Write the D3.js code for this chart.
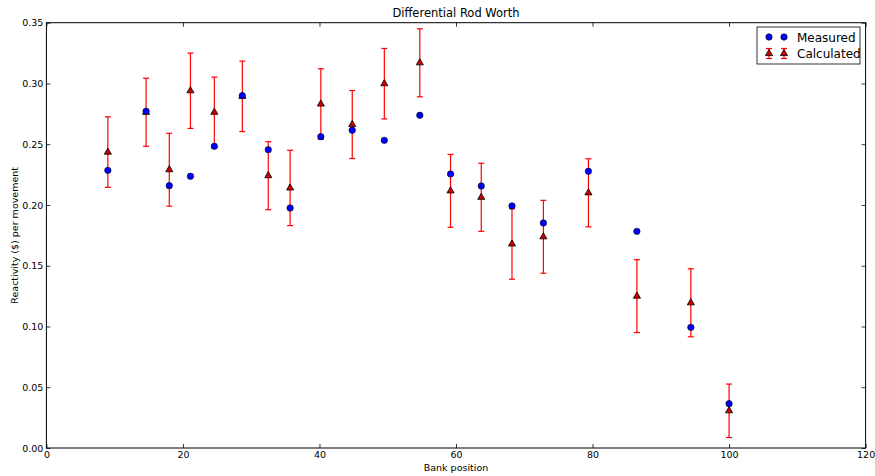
<!DOCTYPE html>
<html>
<head>
<meta charset="utf-8">
<script src="https://cdn.jsdelivr.net/npm/d3@7"></script>
<style>
  body { margin: 0; background: #fff; }
  text { font-family: "DejaVu Sans", sans-serif; fill: #000; }
</style>
</head>
<body>
<div id="chart"></div>
<script>
// Bank positions and reactivity values
const positions = [9, 14.6, 18, 21.1, 24.6, 28.7, 32.5, 35.7, 40.2, 44.8, 49.5, 54.7, 59.2, 63.7, 68.2, 72.8, 79.4, 86.5, 94.4, 100];
const measured = [0.2285, 0.2771, 0.2159, 0.2236, 0.2483, 0.290, 0.2455, 0.1975, 0.2562, 0.2615, 0.2532, 0.2738, 0.2255, 0.2156, 0.1992, 0.1852, 0.2277, 0.1783, 0.0993, 0.0365];
const calculated = [0.2435, 0.2763, 0.2290, 0.2940, 0.2763, 0.2894, 0.2241, 0.2140, 0.2831, 0.2662, 0.2998, 0.3170, 0.2116, 0.2063, 0.1679, 0.1738, 0.2100, 0.1250, 0.1195, 0.0306];
const calcError = [0.029, 0.028, 0.030, 0.031, 0.029, 0.029, 0.028, 0.031, 0.029, 0.028, 0.029, 0.028, 0.030, 0.028, 0.029, 0.030, 0.028, 0.030, 0.028, 0.022];
const xTicks = [0, 20, 40, 60, 80, 100, 120];
const yTicks = [0, 0.05, 0.10, 0.15, 0.20, 0.25, 0.30, 0.35];

const width = 875;
const height = 476;
const margin = {top: 22.7, right: 9.4, bottom: 28, left: 46.4};
const plotW = width - margin.left - margin.right;
const plotH = height - margin.top - margin.bottom;

const svg = d3.select("#chart").append("svg")
    .attr("width", width)
    .attr("height", height);

const x = d3.scaleLinear().domain([0, 120]).range([0, plotW]);
const y = d3.scaleLinear().domain([0, 0.35]).range([plotH, 0]);

const g = svg.append("g")
    .attr("transform", `translate(${margin.left},${margin.top})`);

// axes with inward ticks on all four sides
function styleAxis(sel) {
    sel.select(".domain").remove();
    sel.selectAll("line").attr("stroke", "#000").attr("stroke-width", 0.8);
    sel.selectAll("text").attr("font-size", "9.5px").attr("fill", "#000");
}

g.append("g")
    .attr("transform", `translate(0,${plotH})`)
    .call(d3.axisBottom(x).tickValues(xTicks).tickFormat(d3.format("d"))
        .tickSizeInner(-4).tickSizeOuter(0).tickPadding(3))
    .call(styleAxis);

g.append("g")
    .call(d3.axisTop(x).tickValues(xTicks).tickFormat("")
        .tickSizeInner(-4).tickSizeOuter(0))
    .call(styleAxis);

g.append("g")
    .call(d3.axisLeft(y).tickValues(yTicks).tickFormat(d3.format(".2f"))
        .tickSizeInner(-4).tickSizeOuter(0).tickPadding(3))
    .call(styleAxis);

g.append("g")
    .attr("transform", `translate(${plotW},0)`)
    .call(d3.axisRight(y).tickValues(yTicks).tickFormat("")
        .tickSizeInner(-4).tickSizeOuter(0))
    .call(styleAxis);

g.append("rect")
    .attr("width", plotW)
    .attr("height", plotH)
    .attr("fill", "none")
    .attr("stroke", "#000")
    .attr("stroke-width", 1);

// error bars
const calcData = positions.map((p, i) => ({x: p, y: calculated[i], e: calcError[i]}));
const bars = g.append("g").attr("stroke", "#ff0000").attr("stroke-width", 1.2);
calcData.forEach(d => {
    const cx = x(d.x);
    bars.append("line").attr("x1", cx).attr("x2", cx)
        .attr("y1", y(d.y - d.e)).attr("y2", y(d.y + d.e));
    [d.y - d.e, d.y + d.e].forEach(v => {
        bars.append("line").attr("x1", cx - 3).attr("x2", cx + 3)
            .attr("y1", y(v)).attr("y2", y(v));
    });
});

const tri = d3.symbol().type(d3.symbolTriangle).size(22);

g.append("g").selectAll("path")
    .data(calcData)
    .join("path")
    .attr("d", tri)
    .attr("transform", d => `translate(${x(d.x)},${y(d.y)})`)
    .attr("fill", "#cc0000")
    .attr("stroke", "#000")
    .attr("stroke-width", 0.8);

g.append("g").selectAll("circle")
    .data(positions.map((p, i) => ({x: p, y: measured[i]})))
    .join("circle")
    .attr("cx", d => x(d.x))
    .attr("cy", d => y(d.y))
    .attr("r", 3.2)
    .attr("fill", "#0000ff")
    .attr("stroke", "#000")
    .attr("stroke-width", 0.6);

// title and axis labels
svg.append("text")
    .attr("x", margin.left + plotW / 2)
    .attr("y", 17)
    .attr("text-anchor", "middle")
    .attr("font-size", "11.5px")
    .text("Differential Rod Worth");

svg.append("text")
    .attr("x", margin.left + plotW / 2)
    .attr("y", 471)
    .attr("text-anchor", "middle")
    .attr("font-size", "9.5px")
    .text("Bank position");

svg.append("text")
    .attr("transform", `translate(18,${margin.top + plotH / 2}) rotate(-90)`)
    .attr("text-anchor", "middle")
    .attr("font-size", "9.5px")
    .text("Reactivity ($) per movement");

// legend
const legend = svg.append("g").attr("transform", "translate(757,27)");
legend.append("rect")
    .attr("width", 103)
    .attr("height", 37)
    .attr("fill", "#fff")
    .attr("stroke", "#000")
    .attr("stroke-width", 0.8);

[12, 27].forEach(mx => {
    legend.append("circle")
        .attr("cx", mx).attr("cy", 10).attr("r", 3.2)
        .attr("fill", "#0000ff").attr("stroke", "#000").attr("stroke-width", 0.6);
    legend.append("line").attr("x1", mx).attr("x2", mx).attr("y1", 21.5).attr("y2", 31.5)
        .attr("stroke", "#ff0000").attr("stroke-width", 1.2);
    [21.5, 31.5].forEach(cy => legend.append("line")
        .attr("x1", mx - 3).attr("x2", mx + 3).attr("y1", cy).attr("y2", cy)
        .attr("stroke", "#ff0000").attr("stroke-width", 1.2));
    legend.append("path").attr("d", tri)
        .attr("transform", `translate(${mx},26.5)`)
        .attr("fill", "#cc0000").attr("stroke", "#000").attr("stroke-width", 0.8);
});

legend.append("text").attr("x", 40).attr("y", 14.5).attr("font-size", "12px").text("Measured");
legend.append("text").attr("x", 40).attr("y", 31).attr("font-size", "12px").text("Calculated");
</script>
</body>
</html>
